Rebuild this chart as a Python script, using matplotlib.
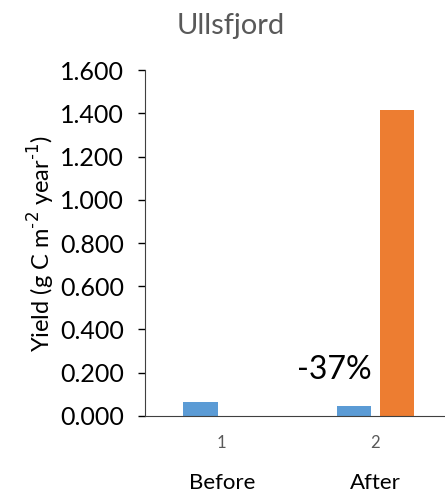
import matplotlib
matplotlib.use("Agg")
import matplotlib.pyplot as plt
from matplotlib.ticker import FixedLocator, FuncFormatter

plt.rcParams['font.family'] = ['Lato', 'DejaVu Sans']

categories = [1, 2]
cat_labels = ["Before", "After"]
series_blue = [0.065, 0.044]
series_orange = [0.0, 1.415]
yticks = [0.0, 0.2, 0.4, 0.6, 0.8, 1.0, 1.2, 1.4, 1.6]
annotation = "-37%"

fig = plt.figure(figsize=(4.45, 4.94), dpi=100)
ax = fig.add_axes([0.326, 0.158, 0.69, 0.70])

w = 0.224
ax.bar([c - 0.139 for c in categories], series_blue, width=w, color="#5B9BD5")
ax.bar([c + 0.141 for c in categories], series_orange, width=w, color="#ED7D31")

ax.set_xlim(0.5, 2.5)
ax.set_ylim(0, 1.6)
ax.yaxis.set_major_locator(FixedLocator(yticks))
ax.yaxis.set_major_formatter(FuncFormatter(lambda v, p: f"{v:.3f}"))
ax.set_xticks(categories)
ax.tick_params(axis='y', direction='out', length=5, width=1, labelsize=18, pad=10, colors='black')
ax.tick_params(axis='x', length=0, labelsize=12, labelcolor='#595959', pad=14)

for s in ['top', 'right']:
    ax.spines[s].set_visible(False)
ax.spines['left'].set_color('#404040')
ax.spines['bottom'].set_color('#404040')

ax.set_ylabel("Yield (g C m$^{\\mathregular{\u2010}2}$ year$^{\\mathregular{\u2010}1}$)", fontsize=17, labelpad=2)
ax.set_title("Ullsfjord", fontsize=21, color="#595959", pad=26, x=0.28)

for c, lab in zip(categories, cat_labels):
    ax.text(c, -0.31, lab, ha='center', va='center', fontsize=16, color='black')

ax.text(1.73, 0.213, annotation, ha='center', va='center', fontsize=23, color='black')

fig.savefig("out.png", dpi=100)
